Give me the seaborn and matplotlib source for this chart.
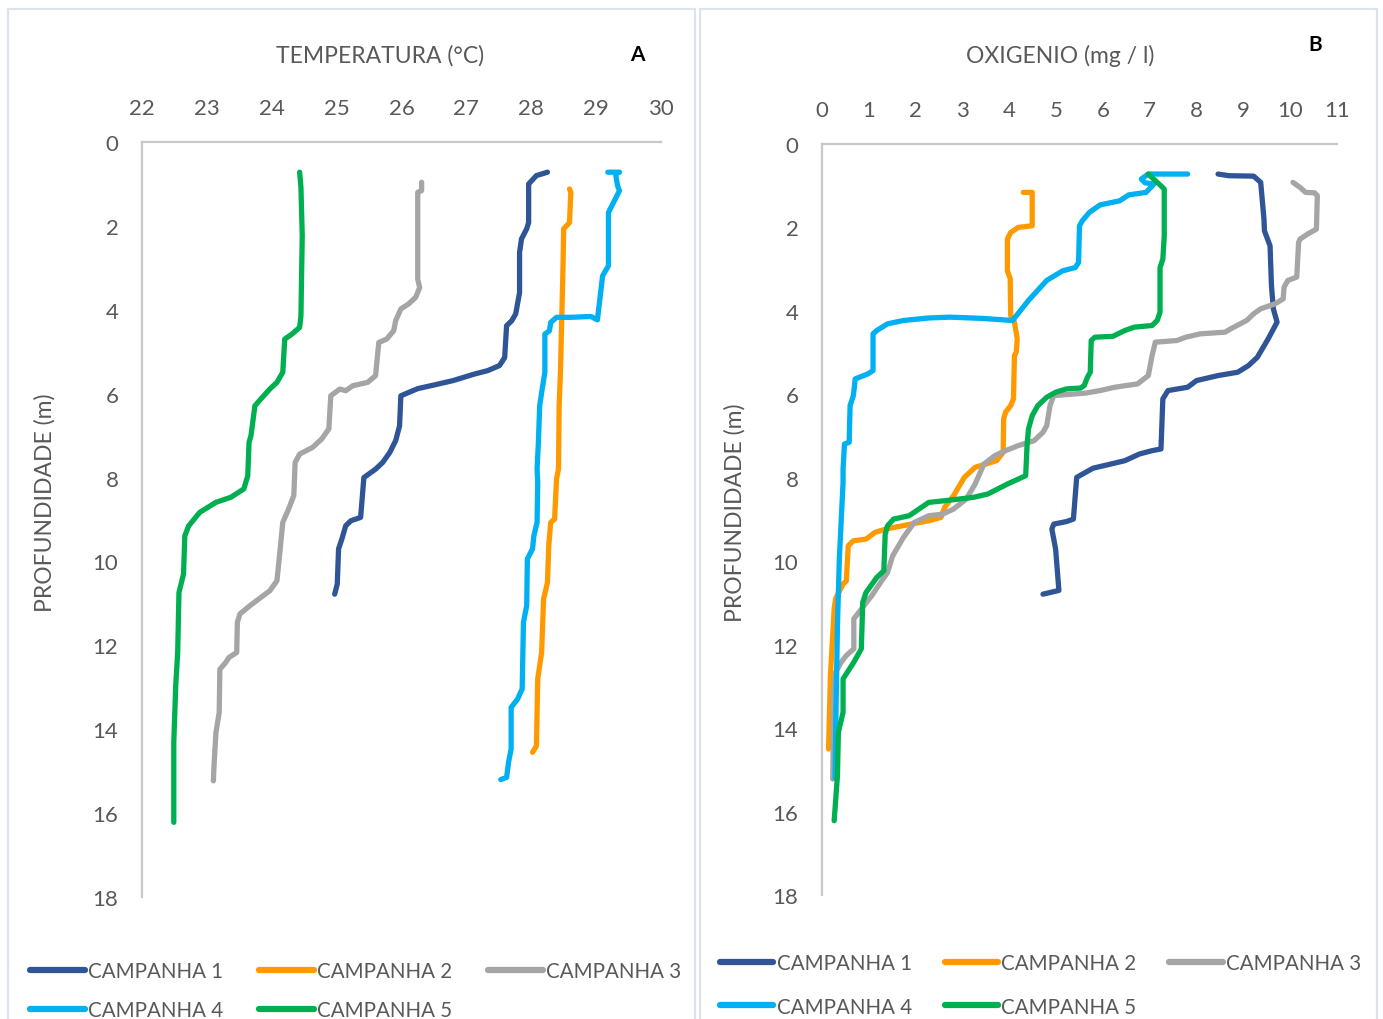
import matplotlib
matplotlib.use("Agg")
import matplotlib.pyplot as plt
import pandas as pd
import seaborn as sns
from matplotlib.patches import Rectangle
from matplotlib.lines import Line2D

campaigns = ["CAMPANHA 1", "CAMPANHA 2", "CAMPANHA 3", "CAMPANHA 4", "CAMPANHA 5"]
colors = ["#2F5597", "#FF9900", "#A5A5A5", "#00B0F0", "#00B050"]

temp_ticks = [22, 23, 24, 25, 26, 27, 28, 29, 30]
oxy_ticks = [0, 1, 2, 3, 4, 5, 6, 7, 8, 9, 10, 11]
depth_ticks = [0, 2, 4, 6, 8, 10, 12, 14, 16, 18]

# --- temperature profiles (°C) against depth (m) ---
temp1_depth = [0.72, 0.8, 1.0, 1.92, 2.07, 2.31, 2.63, 3.59, 4.10, 4.26, 4.38, 5.14, 5.33, 5.45, 5.53,
               5.69, 5.79, 5.88, 6.05, 6.77, 7.12, 7.4, 7.64, 7.8, 8.0, 8.95, 9.03, 9.15, 9.47, 9.70,
               10.54, 10.78]
temp1_val = [28.25, 28.08, 27.96, 27.96, 27.93, 27.85, 27.82, 27.82, 27.76, 27.70, 27.62, 27.59, 27.51,
             27.33, 27.13, 26.79, 26.51, 26.25, 25.99, 25.97, 25.91, 25.82, 25.71, 25.6, 25.42, 25.37,
             25.22, 25.14, 25.08, 25.03, 25.01, 24.97]

temp2_depth = [1.12, 1.2, 1.92, 2.07, 2.95, 4.22, 5.49, 6.29, 7.80, 8.03, 8.99, 9.07, 9.62, 10.5, 10.9,
               12.17, 12.8, 14.4, 14.55]
temp2_val = [28.59, 28.61, 28.59, 28.50, 28.49, 28.47, 28.45, 28.43, 28.42, 28.39, 28.36, 28.30, 28.27,
             28.25, 28.19, 28.16, 28.10, 28.08, 28.02]

temp3_depth = [0.96, 1.16, 1.2, 2.07, 3.27, 3.47, 3.70, 3.86, 3.98, 4.26, 4.50, 4.70, 4.78, 5.57, 5.73,
               5.81, 5.93, 5.89, 6.05, 6.84, 7.08, 7.28, 7.44, 7.64, 8.43, 8.75, 9.07, 9.86, 10.46,
               10.70, 10.86, 11.06, 11.25, 11.45, 12.17, 12.29, 12.41, 12.57, 13.6, 14.08, 14.87, 15.23]
temp3_val = [26.31, 26.31, 26.25, 26.25, 26.25, 26.28, 26.22, 26.11, 25.99, 25.91, 25.88, 25.77, 25.65,
             25.60, 25.48, 25.25, 25.14, 25.05, 24.91, 24.88, 24.77, 24.63, 24.43, 24.36, 24.34, 24.26,
             24.17, 24.12, 24.08, 23.97, 23.83, 23.66, 23.51, 23.47, 23.46, 23.34, 23.29, 23.20, 23.19,
             23.14, 23.11, 23.10]

temp4_depth = [0.72, 0.72, 0.76, 1.04, 1.16, 1.68, 2.95, 3.19, 4.24, 4.16, 4.18, 4.18, 4.30, 4.50, 4.58,
               5.49, 5.97, 6.29, 7.16, 7.80, 8.11, 9.07, 9.39, 9.70, 9.94, 11.05, 11.45, 13.04, 13.28,
               13.48, 14.47, 14.79, 15.15, 15.2]
temp4_val = [29.18, 29.36, 29.30, 29.33, 29.36, 29.19, 29.19, 29.10, 29.02, 28.92, 28.60, 28.39, 28.30,
             28.28, 28.21, 28.21, 28.16, 28.13, 28.11, 28.09, 28.10, 28.09, 28.04, 28.02, 27.94, 27.93,
             27.88, 27.86, 27.79, 27.69, 27.69, 27.65, 27.62, 27.53]

temp5_depth = [0.72, 1.08, 2.23, 4.14, 4.42, 4.58, 4.70, 5.49, 5.73, 5.89, 6.13, 6.29, 7.0, 7.16, 7.96,
               8.27, 8.47, 8.59, 8.83, 9.15, 9.39, 10.30, 10.74, 12.17, 12.96, 14.31, 16.22]
temp5_val = [24.43, 24.45, 24.47, 24.45, 24.43, 24.31, 24.20, 24.17, 24.08, 23.97, 23.83, 23.74, 23.68,
             23.65, 23.63, 23.57, 23.37, 23.14, 22.89, 22.72, 22.66, 22.64, 22.57, 22.55, 22.52, 22.49,
             22.49]

# --- dissolved oxygen profiles (mg/l) against depth (m) ---
oxy1_depth = [0.72, 0.76, 0.77, 0.92, 1.8, 2.08, 2.44, 3.39, 3.95, 4.27, 4.67, 5.11, 5.31, 5.47, 5.55,
              5.67, 5.83, 5.91, 6.11, 7.31, 7.35, 7.43, 7.59, 7.67, 7.77, 7.99, 8.99, 9.05, 9.11, 9.23,
              9.71, 10.7, 10.79]
oxy1_val = [8.46, 8.69, 9.22, 9.37, 9.44, 9.45, 9.57, 9.60, 9.64, 9.72, 9.53, 9.30, 9.11, 8.88, 8.46,
            8.00, 7.81, 7.39, 7.28, 7.24, 7.05, 6.78, 6.47, 6.17, 5.79, 5.44, 5.37, 5.22, 4.95, 4.91,
            4.99, 5.06, 4.72]

oxy2_depth = [1.16, 1.16, 1.96, 2.0, 2.12, 2.28, 3.04, 3.23, 4.11, 4.27, 4.67, 4.99, 5.07, 6.11, 6.27,
              6.43, 6.59, 7.39, 7.59, 7.67, 7.75, 7.99, 8.43, 8.71, 8.95, 9.03, 9.11, 9.23, 9.31, 9.47,
              9.51, 9.63, 10.47, 10.55, 10.9, 11.14, 12.74, 14.5]
oxy2_val = [4.30, 4.49, 4.49, 4.19, 4.03, 3.96, 3.96, 4.02, 4.03, 4.11, 4.17, 4.15, 4.11, 4.09, 4.03,
            3.92, 3.88, 3.87, 3.73, 3.50, 3.27, 3.04, 2.81, 2.62, 2.54, 2.28, 1.90, 1.36, 1.13, 0.94,
            0.67, 0.56, 0.52, 0.45, 0.29, 0.26, 0.18, 0.14]

oxy3_depth = [0.92, 1.04, 1.16, 1.17, 1.24, 2.04, 2.16, 2.28, 2.36, 3.19, 3.27, 3.43, 3.71, 3.83, 3.95,
              4.07, 4.23, 4.43, 4.51, 4.55, 4.63, 4.71, 4.75, 5.07, 5.55, 5.75, 5.83, 5.91, 5.97, 6.03,
              6.27, 6.75, 6.91, 7.11, 7.23, 7.35, 7.47, 7.67, 8.15, 8.51, 8.75, 8.87, 8.91, 9.07, 9.43,
              9.87, 10.27, 10.51, 10.83, 11.06, 11.38, 12.1, 12.26, 12.42, 12.66, 13.14, 15.22]
oxy3_val = [10.06, 10.21, 10.33, 10.52, 10.58, 10.56, 10.37, 10.21, 10.18, 10.14, 9.95, 9.87, 9.85,
            9.68, 9.37, 9.22, 9.07, 8.73, 8.61, 8.08, 7.77, 7.58, 7.12, 7.05, 6.97, 6.74, 6.25, 5.94,
            5.63, 4.95, 4.87, 4.80, 4.72, 4.53, 4.19, 3.92, 3.69, 3.46, 3.27, 3.08, 2.81, 2.58, 2.28,
            1.97, 1.74, 1.51, 1.40, 1.25, 1.06, 0.90, 0.68, 0.68, 0.52, 0.41, 0.29, 0.25, 0.23]

oxy4_depth = [0.72, 0.72, 0.84, 0.93, 0.96, 1.16, 1.22, 1.36, 1.46, 1.64, 1.84, 1.96, 2.84, 2.96, 3.04,
              3.27, 3.75, 4.23, 4.18, 4.15, 4.17, 4.23, 4.31, 4.47, 4.55, 5.43, 5.51, 5.63, 6.03, 6.27,
              7.15, 7.19, 7.79, 8.11, 9.95, 11.54, 13.5, 15.2]
oxy4_val = [7.81, 6.97, 6.82, 6.90, 7.09, 6.92, 6.55, 6.36, 5.94, 5.71, 5.56, 5.50, 5.48, 5.41, 5.14,
            4.80, 4.41, 4.07, 3.42, 2.73, 2.28, 1.74, 1.40, 1.17, 1.09, 1.09, 0.98, 0.71, 0.67, 0.60,
            0.58, 0.48, 0.45, 0.45, 0.37, 0.33, 0.30, 0.28]

oxy5_depth = [0.72, 0.88, 0.96, 1.08, 2.2, 2.76, 2.96, 4.03, 4.23, 4.35, 4.39, 4.47, 4.61, 4.63, 4.71,
              5.47, 5.59, 5.79, 5.85, 5.87, 5.95, 6.07, 6.27, 6.51, 6.83, 7.23, 7.95, 8.15, 8.39, 8.47,
              8.55, 8.59, 8.91, 8.99, 9.15, 9.35, 10.23, 10.39, 10.75, 10.99, 12.1, 12.42, 12.82, 13.62,
              14.1, 15.14, 16.22]
oxy5_val = [6.97, 7.12, 7.20, 7.31, 7.31, 7.28, 7.22, 7.22, 7.16, 7.05, 6.67, 6.47, 6.21, 5.83, 5.75,
            5.73, 5.67, 5.60, 5.52, 5.22, 4.99, 4.80, 4.61, 4.49, 4.41, 4.38, 4.35, 3.96, 3.54, 3.23,
            2.62, 2.28, 1.86, 1.53, 1.40, 1.35, 1.32, 1.17, 0.94, 0.87, 0.84, 0.68, 0.45, 0.45, 0.35,
            0.33, 0.26]


def long_table(depths, values):
    rows = []
    for name, d, v in zip(campaigns, depths, values):
        for i, (dd, vv) in enumerate(zip(d, v)):
            rows.append({"campanha": name, "depth": dd, "value": vv, "step": i})
    return pd.DataFrame(rows)


temp_df = long_table([temp1_depth, temp2_depth, temp3_depth, temp4_depth, temp5_depth],
                     [temp1_val, temp2_val, temp3_val, temp4_val, temp5_val])
oxy_df = long_table([oxy1_depth, oxy2_depth, oxy3_depth, oxy4_depth, oxy5_depth],
                    [oxy1_val, oxy2_val, oxy3_val, oxy4_val, oxy5_val])

sns.set_theme(style="white")
plt.rcParams["font.family"] = ["Lato", "DejaVu Sans"]
TXT = "#595959"
W, H = 1383, 1020
fig = plt.figure(figsize=(W / 100, H / 100), dpi=100)
fig.patch.set_facecolor("white")


def fx(px):
    return px / W


def fy(py):
    return 1 - py / H


# panel frames
for x0, x1 in [(8, 695), (700, 1377)]:
    fig.patches.append(Rectangle((fx(x0), fy(1030)), fx(x1 - x0), (1030 - 10) / H,
                                 transform=fig.transFigure, fill=False,
                                 edgecolor="#dde3ea", linewidth=1.6))

palette = dict(zip(campaigns, colors))


def profile_axes(rect_px, df, xlim, xticks, tick_pad):
    l, t, r, b = rect_px
    ax = fig.add_axes([fx(l), fy(b), fx(r - l), (b - t) / H])
    sns.lineplot(data=df, x="value", y="depth", hue="campanha", palette=palette,
                 sort=False, estimator=None, units="campanha", linewidth=3.8,
                 legend=False, ax=ax)
    for ln in ax.lines:
        ln.set_solid_capstyle("round")
        ln.set_solid_joinstyle("round")
    ax.set_xlim(*xlim)
    ax.set_ylim(18, 0)
    ax.set_xticks(xticks)
    ax.set_yticks(depth_ticks)
    ax.xaxis.tick_top()
    ax.tick_params(length=0, labelsize=16, colors=TXT, pad=tick_pad)
    ax.set_xlabel("")
    ax.set_ylabel("")
    for side in ["right", "bottom"]:
        ax.spines[side].set_visible(False)
    for side in ["left", "top"]:
        ax.spines[side].set_color("#c8c8c8")
        ax.spines[side].set_linewidth(1.6)
    ax.patch.set_alpha(0)
    return ax


axA = profile_axes((142, 143, 661, 898), temp_df, (22, 30), temp_ticks, 17)
axB = profile_axes((822, 145, 1337, 896), oxy_df, (0, 11), oxy_ticks, 17)

fig.text(fx(380), fy(56), "TEMPERATURA (°C)", ha="center", va="center", fontsize=16.5, color=TXT)
fig.text(fx(637), fy(55), "A", ha="center", va="center", fontsize=15, color="black", fontweight="bold")
fig.text(fx(1060), fy(56), "OXIGENIO (mg / l)", ha="center", va="center", fontsize=16.5, color=TXT)
fig.text(fx(1315), fy(45), "B", ha="center", va="center", fontsize=15, color="black", fontweight="bold")
fig.text(fx(45), fy(503), "PROFUNDIDADE (m)", ha="center", va="center", rotation=90,
         fontsize=16.5, color=TXT)
fig.text(fx(735), fy(513), "PROFUNDIDADE (m)", ha="center", va="center", rotation=90,
         fontsize=16.5, color=TXT)

# legends laid out row by row: C1 C2 C3 / C4 C5
order = [0, 3, 1, 4, 2]
handles = [Line2D([], [], color=colors[i], linewidth=4.5, solid_capstyle="round") for i in order]
labels = [campaigns[i] for i in order]
for x0, y0, spacing, colsp, hlen in [(30, 962, 0.92, 1.75, 2.67), (720, 954, 1.15, 1.6, 2.6)]:
    leg = fig.legend(handles, labels, loc="upper left", bbox_to_anchor=(fx(x0), fy(y0)),
                     ncol=3, frameon=False, fontsize=14.8, handlelength=hlen, handletextpad=0.15,
                     columnspacing=colsp, labelspacing=spacing, borderpad=0, borderaxespad=0)
    for txt in leg.get_texts():
        txt.set_color(TXT)

fig.savefig("out.png", dpi=100, facecolor="white")
